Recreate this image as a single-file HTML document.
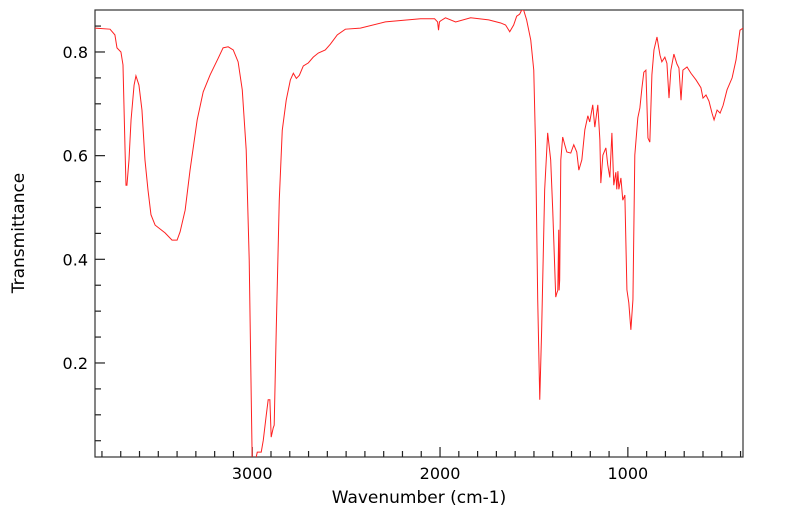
<!DOCTYPE html>
<html><head><meta charset="utf-8"><style>
html,body{margin:0;padding:0;background:#fff;}
svg{display:block;font-family:"DejaVu Sans","Liberation Sans",sans-serif;}
</style></head><body>
<svg id="chart" width="799" height="516">
<rect x="95" y="10" width="648" height="447" fill="#fff" stroke="#333" stroke-width="1.2"/>
<g id="ticks"></g>
<path id="line" fill="none" stroke="#ff2020" stroke-width="1"/>
<text x="419" y="503" font-size="17" text-anchor="middle">Wavenumber (cm-1)</text>
<text transform="translate(24,233) rotate(-90)" font-size="17" text-anchor="middle">Transmittance</text>
</svg>
<script>
const wavenumbers=[3837,3757,3731,3720,3699,3688,3677,3672,3667,3656,3645,3629,3619,3603,3587,3571,3555,3539,3517,3464,3427,3400,3384,3357,3331,3293,3261,3224,3181,3155,3128,3101,3075,3053,3032,3016,3005,3000,2984,2973,2952,2941,2925,2915,2906,2899,2888,2883,2872,2856,2840,2819,2797,2781,2765,2749,2728,2701,2675,2648,2611,2584,2547,2504,2424,2291,2104,2029,2013,2008,2003,1997,1971,1917,1837,1741,1677,1651,1629,1608,1592,1576,1565,1555,1539,1517,1501,1491,1480,1469,1459,1443,1427,1411,1400,1384,1378,1373,1368,1366,1363,1357,1347,1336,1325,1304,1288,1272,1261,1245,1229,1213,1203,1187,1176,1160,1149,1144,1133,1117,1107,1096,1085,1075,1064,1059,1053,1048,1037,1027,1016,1005,995,984,973,963,947,936,925,915,904,893,883,872,861,845,829,819,803,792,781,771,755,739,728,717,707,685,664,637,611,600,584,568,552,541,525,509,493,472,445,424,403,387];
const transmittance=[0.846,0.844,0.833,0.808,0.800,0.775,0.611,0.543,0.543,0.592,0.669,0.736,0.754,0.736,0.688,0.592,0.534,0.486,0.466,0.451,0.437,0.437,0.453,0.495,0.572,0.669,0.723,0.756,0.788,0.808,0.810,0.804,0.781,0.727,0.611,0.399,0.129,0.010,0.010,0.028,0.028,0.051,0.100,0.129,0.129,0.057,0.075,0.080,0.264,0.514,0.649,0.707,0.746,0.759,0.749,0.755,0.773,0.779,0.790,0.798,0.804,0.815,0.833,0.844,0.846,0.858,0.864,0.864,0.858,0.842,0.858,0.860,0.866,0.858,0.866,0.862,0.856,0.852,0.839,0.852,0.869,0.873,0.881,0.881,0.862,0.823,0.765,0.611,0.322,0.129,0.264,0.534,0.644,0.592,0.495,0.327,0.335,0.340,0.457,0.340,0.360,0.592,0.636,0.621,0.607,0.605,0.621,0.607,0.572,0.592,0.650,0.677,0.665,0.698,0.655,0.698,0.630,0.547,0.601,0.615,0.582,0.558,0.644,0.543,0.568,0.535,0.570,0.535,0.557,0.514,0.524,0.341,0.316,0.264,0.322,0.601,0.673,0.692,0.731,0.761,0.765,0.634,0.626,0.756,0.804,0.829,0.794,0.781,0.790,0.778,0.711,0.765,0.796,0.777,0.769,0.707,0.765,0.771,0.759,0.746,0.731,0.711,0.717,0.705,0.682,0.669,0.688,0.682,0.697,0.727,0.750,0.785,0.842,0.846];
const xTickLabels=[3000,2000,1000];
const yTickLabels=[0.2,0.4,0.6,0.8];
const X0=95,X1=743,Y0=10,Y1=457,WMAX=3837,WMIN=387,TMAX=0.881,TMIN=0.0186;
const xs=w=>X0+(WMAX-w)/(WMAX-WMIN)*(X1-X0);
const ys=t=>Y0+(TMAX-t)/(TMAX-TMIN)*(Y1-Y0);
const NS='http://www.w3.org/2000/svg';
let d='';
for(let i=0;i<wavenumbers.length;i++){
  const t=Math.max(TMIN-0.01,transmittance[i]);
  d+=(i?'L':'M')+xs(wavenumbers[i]).toFixed(2)+','+ys(t).toFixed(2);
}
document.getElementById('line').setAttribute('d',d);
const svg=document.getElementById('chart');
svg.insertAdjacentHTML('afterbegin','<clipPath id="cp"><rect x="95" y="10" width="648" height="447"/></clipPath>');
document.getElementById('line').setAttribute('clip-path','url(#cp)');
const g=document.getElementById('ticks');
function ln(x1,y1,x2,y2){const l=document.createElementNS(NS,'line');l.setAttribute('x1',x1);l.setAttribute('y1',y1);l.setAttribute('x2',x2);l.setAttribute('y2',y2);l.setAttribute('stroke','#222');l.setAttribute('stroke-width','1.2');


g.appendChild(l);}
for(let w=3800;w>=400;w-=100){const x=xs(w);const major=w%1000===0;ln(x,Y1,x,Y1-(major?10:6));}
for(let t=0.05;t<TMAX;t+=0.05){const y=ys(t);const major=Math.abs(t*10-Math.round(t*10))<1e-6&&Math.round(t*10)%2===0;ln(X0,y,X0+(major?10:6),y);}
xTickLabels.forEach(w=>{const tx=document.createElementNS(NS,'text');tx.setAttribute('x',xs(w));tx.setAttribute('y',479);tx.setAttribute('font-size','16');tx.setAttribute('text-anchor','middle');tx.textContent=w;


svg.appendChild(tx);});
yTickLabels.forEach(t=>{const tx=document.createElementNS(NS,'text');tx.setAttribute('x',88);tx.setAttribute('y',ys(t)+6);tx.setAttribute('font-size','16');tx.setAttribute('text-anchor','end');tx.textContent=t.toFixed(1);


svg.appendChild(tx);});
</script>
</body></html>
